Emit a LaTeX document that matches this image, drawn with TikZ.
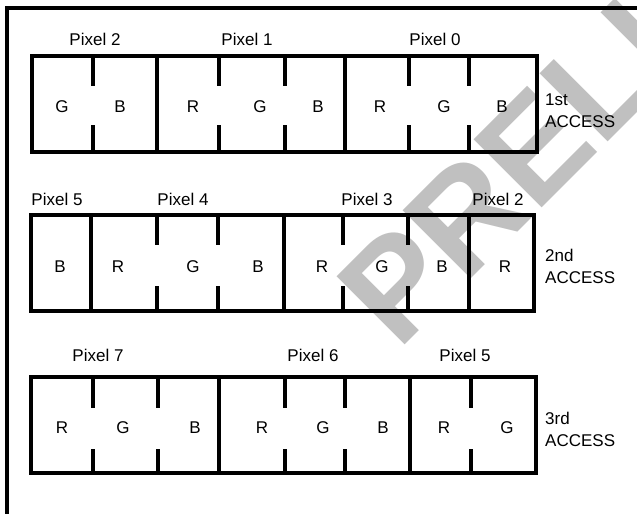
\documentclass[tikz,border=0pt]{standalone}
\usepackage{fontspec}
\setmainfont{Liberation Sans}
\definecolor{wm}{RGB}{192,192,192}
\tikzset{
  x=1pt, y=-1pt,
  frame/.style={line width=3.6pt},
  boxline/.style={line width=3.2pt},
  cell/.style={inner sep=0pt, font=\fontsize{17}{20}\selectfont},
  lbl/.style={inner sep=0pt, font=\fontsize{17}{20}\selectfont},
  acc/.style={inner sep=0pt, align=left, anchor=west, font=\fontsize{17}{22}\selectfont},
}
\begin{document}
\begin{tikzpicture}
\useasboundingbox (0,0) rectangle (637,514);
\clip (0,0) rectangle (637,514);
\fill[white] (0,0) rectangle (637,514);
% watermark
\node[rotate=45, anchor=base west, inner sep=0pt, text=wm,
      font=\fontsize{140}{140}\selectfont\bfseries] (wmark) at (398,352) {PRELIMINARY};
% frame
\draw[frame] (637,8) -- (7,8) -- (7,514);

% ---------- row 1 ----------
\draw[boxline] (32,56) rectangle (537,152);
\foreach \x in {157,345} \draw[boxline] (\x,56) -- (\x,152);
\foreach \x in {93,219,285,409,469} {
  \draw[boxline] (\x,56) -- (\x,86);
  \draw[boxline] (\x,125) -- (\x,152);
}
\foreach \x/\t [count=\i] in {62/G,120/B,193/R,260/G,318/B,380/R,444/G,502/B}
  \node[cell] (a\i) at (\x,107) {\t};
\node[lbl] (p12) at (95,39) {Pixel 2};
\node[lbl] (p11) at (247,39) {Pixel 1};
\node[lbl] (p10) at (435,39) {Pixel 0};
\node[acc] (acc1) at (545,111) {1st\\ACCESS};

% ---------- row 2 ----------
\draw[boxline] (31,215) rectangle (534,311);
\foreach \x in {91,284,469} \draw[boxline] (\x,215) -- (\x,311);
\foreach \x in {157,218,343,408} {
  \draw[boxline] (\x,215) -- (\x,245);
  \draw[boxline] (\x,286) -- (\x,313);
}
\foreach \x/\t [count=\i] in {60/B,118/R,193/G,258/B,322/R,382/G,442/B,505/R}
  \node[cell] (b\i) at (\x,267) {\t};
\node[lbl] (p25) at (57,199) {Pixel 5};
\node[lbl] (p24) at (183,199) {Pixel 4};
\node[lbl] (p23) at (367,199) {Pixel 3};
\node[lbl] (p22) at (498,199) {Pixel 2};
\node[acc] (acc2) at (545,266) {2nd\\ACCESS};

% ---------- row 3 ----------
\draw[boxline] (31,377) rectangle (536,473);
\foreach \x in {219,410} \draw[boxline] (\x,377) -- (\x,473);
\foreach \x in {93,158,285,345,471} {
  \draw[boxline] (\x,377) -- (\x,408);
  \draw[boxline] (\x,449) -- (\x,473);
}
\foreach \x/\t [count=\i] in {62/R,123/G,195/B,262/R,323/G,383/B,444/R,507/G}
  \node[cell] (c\i) at (\x,428) {\t};
\node[lbl] (p37) at (98,355) {Pixel 7};
\node[lbl] (p36) at (313,355) {Pixel 6};
\node[lbl] (p35) at (465,355) {Pixel 5};
\node[acc] (acc3) at (545,429) {3rd\\ACCESS};
\end{tikzpicture}
\end{document}
